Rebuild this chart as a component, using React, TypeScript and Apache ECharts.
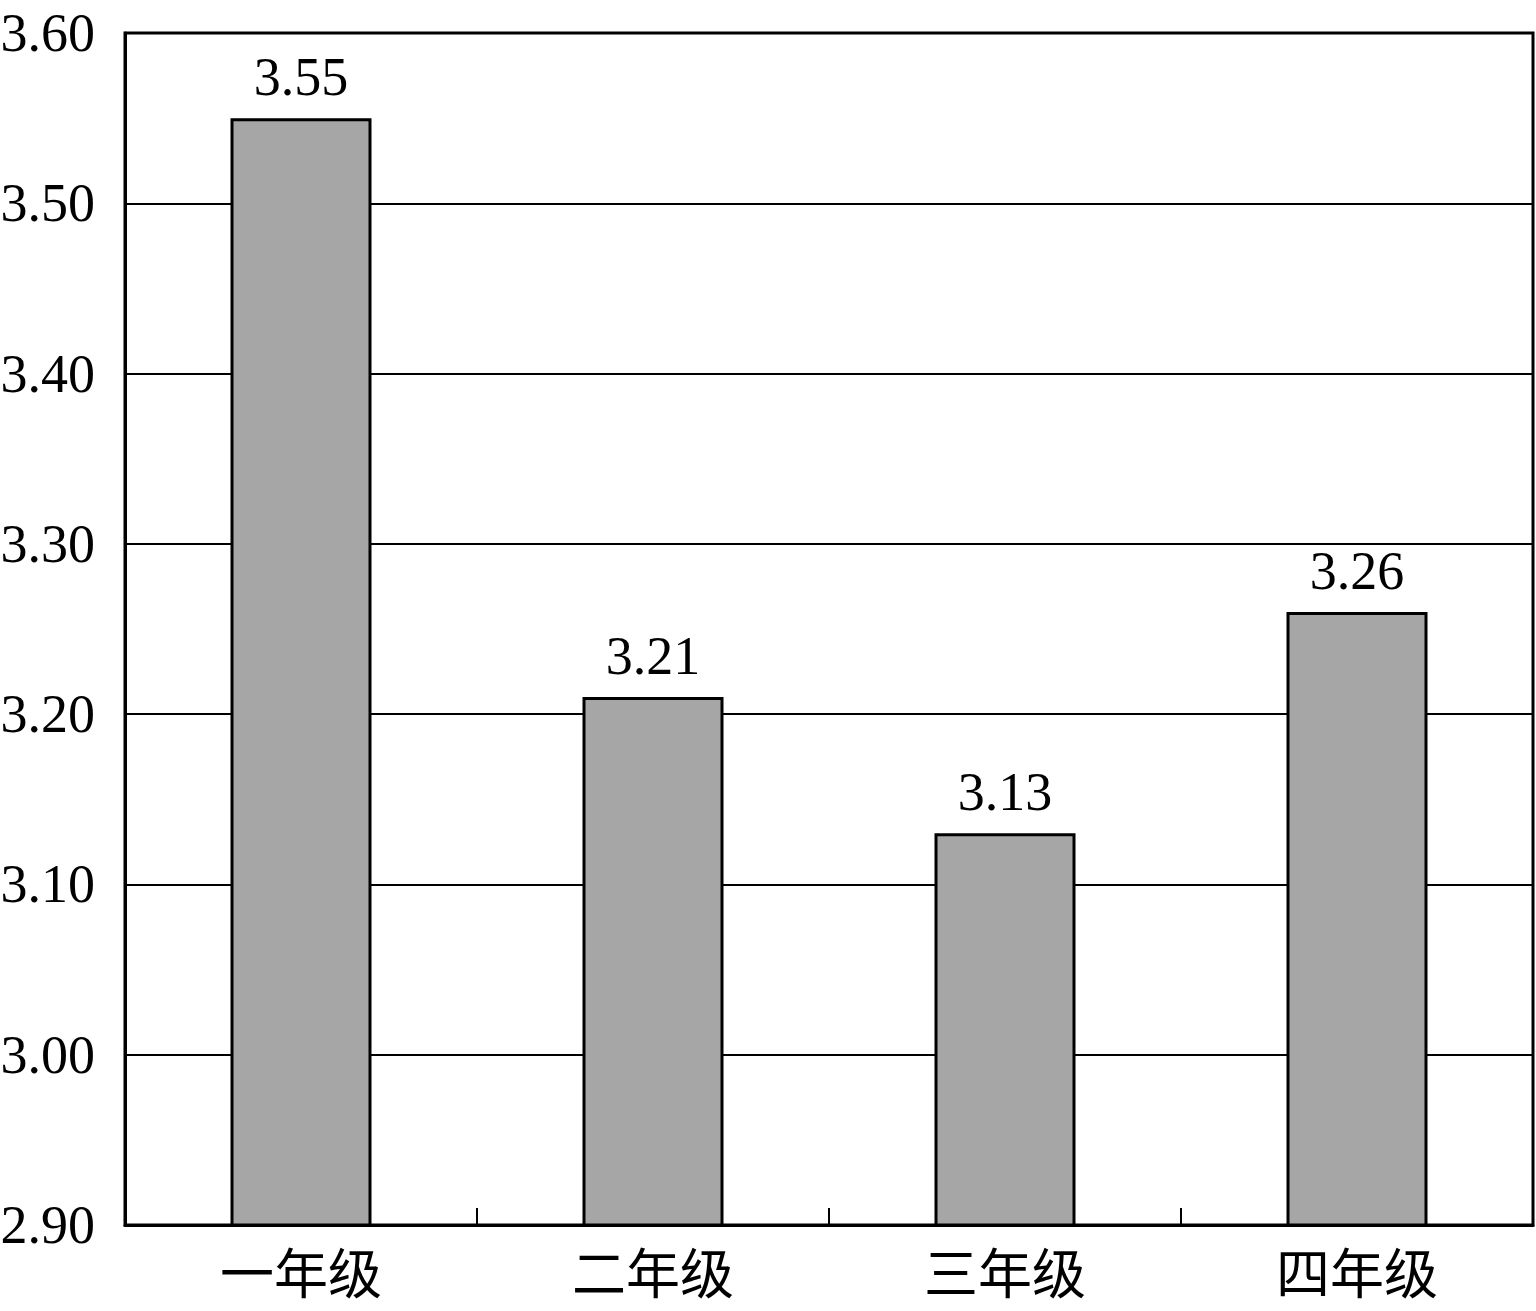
import React, { useEffect, useRef } from "react";
import * as echarts from "echarts";

const categories = ["一年级", "二年级", "三年级", "四年级"];
const values = [3.55, 3.21, 3.13, 3.26];
const yMin = 2.9;
const yMax = 3.6;
const yInterval = 0.1;

const FONT = "'Liberation Serif', 'Times New Roman', 'Noto Sans CJK SC', serif";

export default function App() {
  const ref = useRef<HTMLDivElement>(null);
  useEffect(() => {
    if (!ref.current) return;
    const chart = echarts.init(ref.current, null, { renderer: "svg" });
    chart.setOption({
      animation: false,
      backgroundColor: "#ffffff",
      grid: {
        left: 125,
        right: 3,
        top: 33,
        bottom: 86,
        containLabel: false,
        outerBoundsMode: "none",
        show: true,
        borderColor: "#000",
        borderWidth: 3,
        backgroundColor: "transparent",
      },
      xAxis: {
        type: "category",
        data: categories,
        axisLine: { show: true, lineStyle: { color: "#000", width: 3 } },
        axisTick: { show: true, inside: true, length: 17, lineStyle: { color: "#000", width: 2 } },
        axisLabel: { color: "#000", fontSize: 54, fontFamily: FONT, margin: 24 },
        splitLine: { show: false },
      },
      yAxis: {
        type: "value",
        min: yMin,
        max: yMax,
        interval: yInterval,
        axisLine: { show: true, lineStyle: { color: "#000", width: 3 } },
        axisTick: { show: false },
        axisLabel: {
          color: "#000",
          fontSize: 54,
          fontFamily: FONT,
          margin: 30,
          padding: [0, 0, 6, 0],
          formatter: (v: number) => v.toFixed(2),
        },
        splitLine: { show: true, lineStyle: { color: "#000", width: 2 } },
      },
      series: [
        {
          type: "bar",
          data: values,
          barWidth: 141,
          itemStyle: { color: "#a6a6a6", borderColor: "#000", borderWidth: 3 },
          label: {
            show: true,
            position: "top",
            distance: 14,
            color: "#000",
            fontSize: 54,
            fontFamily: FONT,
            formatter: (p: any) => Number(p.value).toFixed(2),
          },
        },
      ],
    });
    return () => chart.dispose();
  }, []);
  return (
    <div
      ref={ref}
      style={{ position: "fixed", left: 0, top: 0, width: 1536, height: 1311, background: "#fff" }}
    />
  );
}
